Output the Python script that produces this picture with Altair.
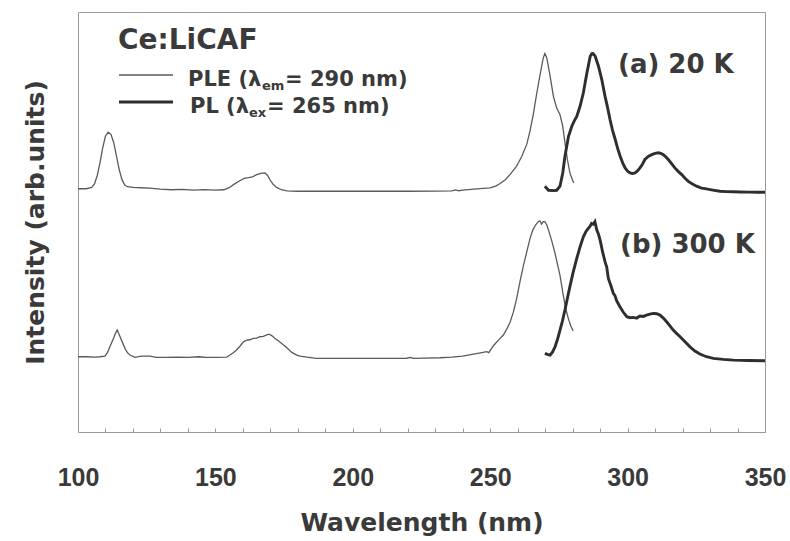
import altair as alt
import pandas as pd

# Spectra of Ce:LiCAF, (wavelength nm, intensity arb. units above each trace's baseline)
PLE_20K = [
    (100, -0.004), (103, -0.004), (105, 0.004), (106, 0.025), (107, 0.075), (108, 0.15),
    (109, 0.24), (110, 0.31), (111, 0.333), (112, 0.32), (113, 0.27), (114, 0.19),
    (115, 0.11), (116, 0.05), (117, 0.018), (118, 0.008), (120, 0.004), (123, 0.002),
    (126, 0.0), (130, -0.006), (134, -0.010), (138, -0.008), (142, -0.012), (146, -0.009),
    (150, -0.012), (153, -0.010), (155, 0.002), (157, 0.025), (159, 0.045), (160.5, 0.058),
    (162, 0.062), (163.5, 0.067), (165, 0.080), (166.5, 0.088), (168, 0.090), (169, 0.075),
    (170, 0.045), (171, 0.022), (172.3, 0.004), (174, -0.010), (176, -0.017), (180, -0.019),
    (190, -0.019), (200, -0.019), (210, -0.019), (220, -0.019), (230, -0.018), (236, -0.017),
    (237.5, -0.011), (238.5, -0.016), (240, -0.012), (243, -0.008), (246.3, -0.003),
    (249.9, 0.001), (252, 0.012), (253.6, 0.027), (255.5, 0.05), (257.2, 0.080),
    (259.6, 0.130), (261.5, 0.189), (263.3, 0.26), (264.5, 0.34), (265.7, 0.44),
    (266.9, 0.56), (268.1, 0.67), (269.3, 0.775), (269.9, 0.801), (270.6, 0.775),
    (271.8, 0.666), (273.0, 0.546), (274.2, 0.477), (275.4, 0.437), (276.4, 0.368),
    (277.2, 0.269), (278.1, 0.170), (279.0, 0.090), (280.0, 0.045), (280.4, 0.031),
]

PL_20K = [
    (269.9, 0.011), (271.2, -0.013), (273.0, -0.015), (274.2, -0.013), (275.4, 0.011),
    (276.4, 0.09), (277.2, 0.189), (278.5, 0.308), (279.7, 0.368), (280.6, 0.40),
    (281.5, 0.427), (282.7, 0.487), (283.9, 0.567), (285.2, 0.686), (286.4, 0.785),
    (287.0, 0.80), (287.4, 0.801), (288.2, 0.785), (289.4, 0.725), (290.6, 0.646),
    (291.8, 0.546), (292.7, 0.48), (293.6, 0.408), (294.5, 0.345), (295.5, 0.289),
    (296.4, 0.235), (297.3, 0.189), (298.2, 0.15), (299.1, 0.120), (300.0, 0.10),
    (300.9, 0.090), (301.8, 0.087), (302.7, 0.090), (303.6, 0.102), (304.5, 0.120),
    (305.4, 0.142), (306.3, 0.170), (307.5, 0.188), (308.8, 0.199), (310.0, 0.207),
    (311.2, 0.210), (312.1, 0.206), (313.0, 0.199), (313.9, 0.186), (314.8, 0.170),
    (316.0, 0.146), (317.2, 0.120), (318.5, 0.098), (319.7, 0.080), (320.9, 0.058),
    (322.1, 0.040), (323.6, 0.024), (325.1, 0.011), (326.9, 0.0), (328.7, -0.005),
    (331.0, -0.012), (333.6, -0.019), (336.0, -0.021), (338.5, -0.022), (340.9, -0.023),
    (344.0, -0.024), (347.0, -0.025), (350.0, -0.025),
]

PLE_300K = [
    (100, -0.004), (103, -0.004), (106, -0.006), (108, -0.004), (109.8, 0.0), (110.7, 0.02),
    (111.6, 0.055), (112.9, 0.105), (113.6, 0.135), (114.3, 0.155), (115.3, 0.115),
    (116.2, 0.08), (117.1, 0.046), (118.0, 0.02), (118.9, 0.006), (120.7, -0.008),
    (122, -0.004), (123.2, 0.0), (126.2, 0.0), (128.6, -0.008), (132, -0.008), (136, -0.007),
    (140, -0.008), (144, -0.004), (146, -0.007), (150, -0.008), (154.1, -0.006),
    (155.3, 0.006), (156.5, 0.02), (157.7, 0.036), (159, 0.06), (160.2, 0.085),
    (161.4, 0.095), (162.6, 0.097), (163.8, 0.105), (165, 0.107), (166.2, 0.115),
    (167.4, 0.117), (168.5, 0.125), (169.5, 0.13), (170.5, 0.122), (171.7, 0.105),
    (173, 0.09), (174.7, 0.068), (176, 0.05), (177.8, 0.022), (179.6, 0.006), (180.8, 0.0),
    (183.2, -0.006), (186.9, -0.014), (195, -0.014), (205, -0.014), (215, -0.014),
    (219.6, -0.013), (221, -0.008), (222, -0.014), (226, -0.012), (231.7, -0.010),
    (236, -0.006), (240, 0.0), (243.9, 0.012), (246, 0.018), (248.7, 0.026), (249.5, 0.02),
    (251.1, 0.06), (253, 0.095), (254.8, 0.125), (256, 0.16), (257.2, 0.2), (258.4, 0.26),
    (259.6, 0.34), (260.8, 0.44), (262.1, 0.54), (263.3, 0.62), (264.5, 0.70),
    (265.5, 0.75), (266.5, 0.78), (267.5, 0.80), (268.1, 0.805), (268.7, 0.785),
    (269.3, 0.80), (269.9, 0.80), (270.6, 0.78), (271.5, 0.735), (272.5, 0.68),
    (273.6, 0.611), (275.4, 0.48), (276.5, 0.37), (277.5, 0.28), (278.5, 0.22),
    (279.3, 0.18), (280.2, 0.15),
]

PL_300K = [
    (269.9, 0.016), (270.8, 0.01), (271.8, 0.006), (272.7, 0.025), (273.6, 0.055),
    (274.5, 0.10), (275.4, 0.155), (276.3, 0.21), (277.2, 0.274), (278.1, 0.345),
    (279.0, 0.413), (280.2, 0.50), (281.5, 0.581), (282.7, 0.65), (283.9, 0.710),
    (284.8, 0.74), (285.7, 0.760), (286.3, 0.772), (286.9, 0.790), (287.5, 0.785),
    (288.1, 0.800), (288.8, 0.750), (289.4, 0.725), (290.0, 0.690), (290.9, 0.62),
    (291.8, 0.561), (292.4, 0.53), (293.0, 0.462), (293.9, 0.42), (294.8, 0.373),
    (295.4, 0.36), (296.0, 0.33), (297.2, 0.294), (298.4, 0.262), (299.7, 0.234),
    (300.9, 0.228), (302.1, 0.230), (303.3, 0.226), (304.5, 0.238), (305.7, 0.236),
    (306.9, 0.244), (308.1, 0.25), (309.4, 0.254), (310.6, 0.252), (311.8, 0.244),
    (313.0, 0.226), (314.2, 0.204), (315.4, 0.18), (316.6, 0.155), (317.8, 0.135),
    (319.1, 0.115), (320.9, 0.085), (322.7, 0.055), (324.5, 0.03), (326.3, 0.012),
    (328.7, -0.004), (331.2, -0.014), (334.8, -0.02), (338.5, -0.024), (344, -0.026),
    (350, -0.028),
]

# vertical offset of each temperature's trace pair
OFFSETS = {"20 K": 1.0, "300 K": 0.0}

X_TICKS = list(range(100, 351, 10))
Y_TICKS = [0, 1]

INK = "#3a3a3a"
BOLD_FONT = "DejaVu Sans"


def frame(points, kind, temp):
    df = pd.DataFrame(points, columns=["wavelength", "intensity"])
    df["y"] = df["intensity"] + OFFSETS[temp]
    df["curve"] = f"{kind} {temp}"
    return df


ple = pd.concat([frame(PLE_20K, "PLE", "20 K"), frame(PLE_300K, "PLE", "300 K")])
pl = pd.concat([frame(PL_20K, "PL", "20 K"), frame(PL_300K, "PL", "300 K")])

x_enc = alt.X(
    "wavelength:Q",
    scale=alt.Scale(domain=[100, 350], nice=False, zero=False),
    axis=alt.Axis(
        values=X_TICKS,
        labelExpr="datum.value % 50 === 0 ? datum.label : ''",
        offset=-4, tickSize=4, tickColor="#9a9a9a", tickWidth=1,
        domain=False, grid=False,
        labelPadding=53, labelBaseline="alphabetic", labelFlush=False, labelOverlap=False,
        labelFont="Liberation Sans", labelFontSize=25, labelFontWeight="bold", labelColor=INK,
        title="Wavelength (nm)", titleFont=BOLD_FONT, titleFontSize=25,
        titleFontWeight="bold", titleColor=INK,
        titleX=343.5, titleY=102, titleAlign="center", titleBaseline="alphabetic",
    ),
)
y_enc = alt.Y(
    "y:Q",
    scale=alt.Scale(domain=[-0.452, 2.048], nice=False, zero=False),
    axis=alt.Axis(
        values=Y_TICKS, labels=False,
        offset=-4, tickSize=4, tickColor="#9a9a9a", tickWidth=1,
        domain=False, grid=False,
        title="Intensity (arb.units)", titleFont=BOLD_FONT, titleFontSize=25,
        titleFontWeight="bold", titleColor=INK, titleAngle=270,
        titleX=-39, titleY=210, titleAlign="center", titleBaseline="alphabetic",
    ),
)

ple_lines = alt.Chart(ple).mark_line(color="#5a5a5a", strokeWidth=1.3).encode(
    x=x_enc, y=y_enc, detail="curve:N"
)
pl_lines = alt.Chart(pl).mark_line(color="#2e2e2e", strokeWidth=2.9).encode(
    x=x_enc, y=y_enc, detail="curve:N"
)

one_row = alt.Data(values=[{}])


def label(text, x, y, size, font=BOLD_FONT):
    return alt.Chart(one_row).mark_text(
        text=text, align="left", baseline="alphabetic", font=font,
        fontSize=size, fontWeight="bold", color=INK,
    ).encode(x=alt.value(x), y=alt.value(y))


def key_line(y, width, color):
    return alt.Chart(one_row).mark_rule(color=color, strokeWidth=width).encode(
        x=alt.value(41), x2=alt.value(95), y=alt.value(y)
    )


annotations = [
    label("Ce:LiCAF", 40, 37, 28),
    key_line(63, 1.3, "#5a5a5a"),
    key_line(90, 2.9, "#2e2e2e"),
    label("PLE (λ", 110, 74, 21),
    label("em", 184, 78, 13),
    label("= 290 nm)", 207, 74, 21),
    label("PL (λ", 112, 101, 21),
    label("ex", 171, 105, 13),
    label("= 265 nm)", 189, 101, 21),
    label("(a) 20 K", 540, 61, 26),
    label("(b) 300 K", 542, 241, 26),
]

chart = alt.layer(ple_lines, pl_lines, *annotations).properties(
    width=687,
    height=420,
    autosize=alt.AutoSizeParams(type="none"),
    padding={"left": 78, "top": 12, "right": 25, "bottom": 109},
    background="white",
).configure_view(stroke="#9a9a9a", strokeWidth=1)

chart.save("out.html", embed_options={"renderer": "svg", "actions": False})
